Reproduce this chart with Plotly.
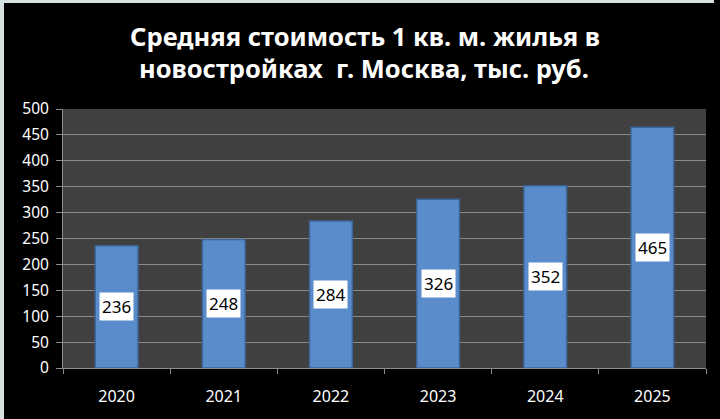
import plotly.graph_objects as go

years = ["2020", "2021", "2022", "2023", "2024", "2025"]
prices = [236, 248, 284, 326, 352, 465]
y_ticks = [0, 50, 100, 150, 200, 250, 300, 350, 400, 450, 500]
title_lines = ["Средняя стоимость 1 кв. м. жилья в", "новостройках  г. Москва, тыс. руб."]

W, H = 720, 419
L, R, T, B = 63, 14, 109, 51
PW, PH = W - L - R, H - T - B


def px_x(px):
    return (px - L) / PW


def px_y(py):
    return (H - B - py) / PH


FONT = "Noto Sans"

fig = go.Figure()
fig.add_trace(go.Bar(
    x=years, y=prices,
    marker=dict(color="#5A8BCA", line=dict(color="#3D6496", width=1.5)),
    hoverinfo="x+y",
))

annotations = []
for i, v in enumerate(prices):
    annotations.append(dict(
        x=i, y=v / 2, xref="x", yref="y", text=str(v), showarrow=False,
        font=dict(family=FONT, size=17, color="black"),
        bgcolor="white", borderpad=2, xanchor="center", yanchor="middle",
    ))

annotations.append(dict(
    x=px_x(365), y=px_y(36), xref="paper", yref="paper", text="<b>%s</b>" % title_lines[0],
    showarrow=False, font=dict(family=FONT, size=25.5, color="white"),
    xanchor="center", yanchor="middle",
))
annotations.append(dict(
    x=px_x(364), y=px_y(68), xref="paper", yref="paper", text="<b>%s</b>" % title_lines[1],
    showarrow=False, font=dict(family=FONT, size=25.5, color="white"),
    xanchor="center", yanchor="middle",
))

shapes = [
    dict(type="rect", xref="paper", yref="paper", x0=px_x(0), x1=px_x(4), y0=px_y(H), y1=px_y(0),
         fillcolor="#d6e2e2", line=dict(width=0), layer="below"),
    dict(type="rect", xref="paper", yref="paper", x0=px_x(0), x1=px_x(714), y0=px_y(3), y1=px_y(0),
         fillcolor="#d6e2e2", line=dict(width=0), layer="below"),
]

fig.update_layout(
    width=W, height=H,
    margin=dict(l=L, r=R, t=T, b=B, pad=0),
    paper_bgcolor="black",
    plot_bgcolor="#404040",
    bargap=0.6,
    showlegend=False,
    annotations=annotations,
    shapes=shapes,
    font=dict(family=FONT, color="white"),
    xaxis=dict(
        type="category", range=[-0.5, len(years) - 0.5], tickson="boundaries",
        ticks="outside", ticklen=5, tickangle=0, ticklabelstandoff=14,
        tickcolor="#8c8c8c", showgrid=False, showline=True, linecolor="#8c8c8c",
        tickfont=dict(family=FONT, size=16, color="white"), fixedrange=True,
    ),
    yaxis=dict(
        range=[0, 500], tickvals=y_ticks, ticks="outside", ticklen=6,
        tickcolor="#8c8c8c", showgrid=True, gridcolor="#8a8a8a", gridwidth=1,
        showline=True, linecolor="#8c8c8c", zeroline=False,
        tickfont=dict(family=FONT, size=15.5, color="white"), fixedrange=True,
        ticklabelstandoff=4,
    ),
)

fig.write_html("out.html", config={"displayModeBar": False})
